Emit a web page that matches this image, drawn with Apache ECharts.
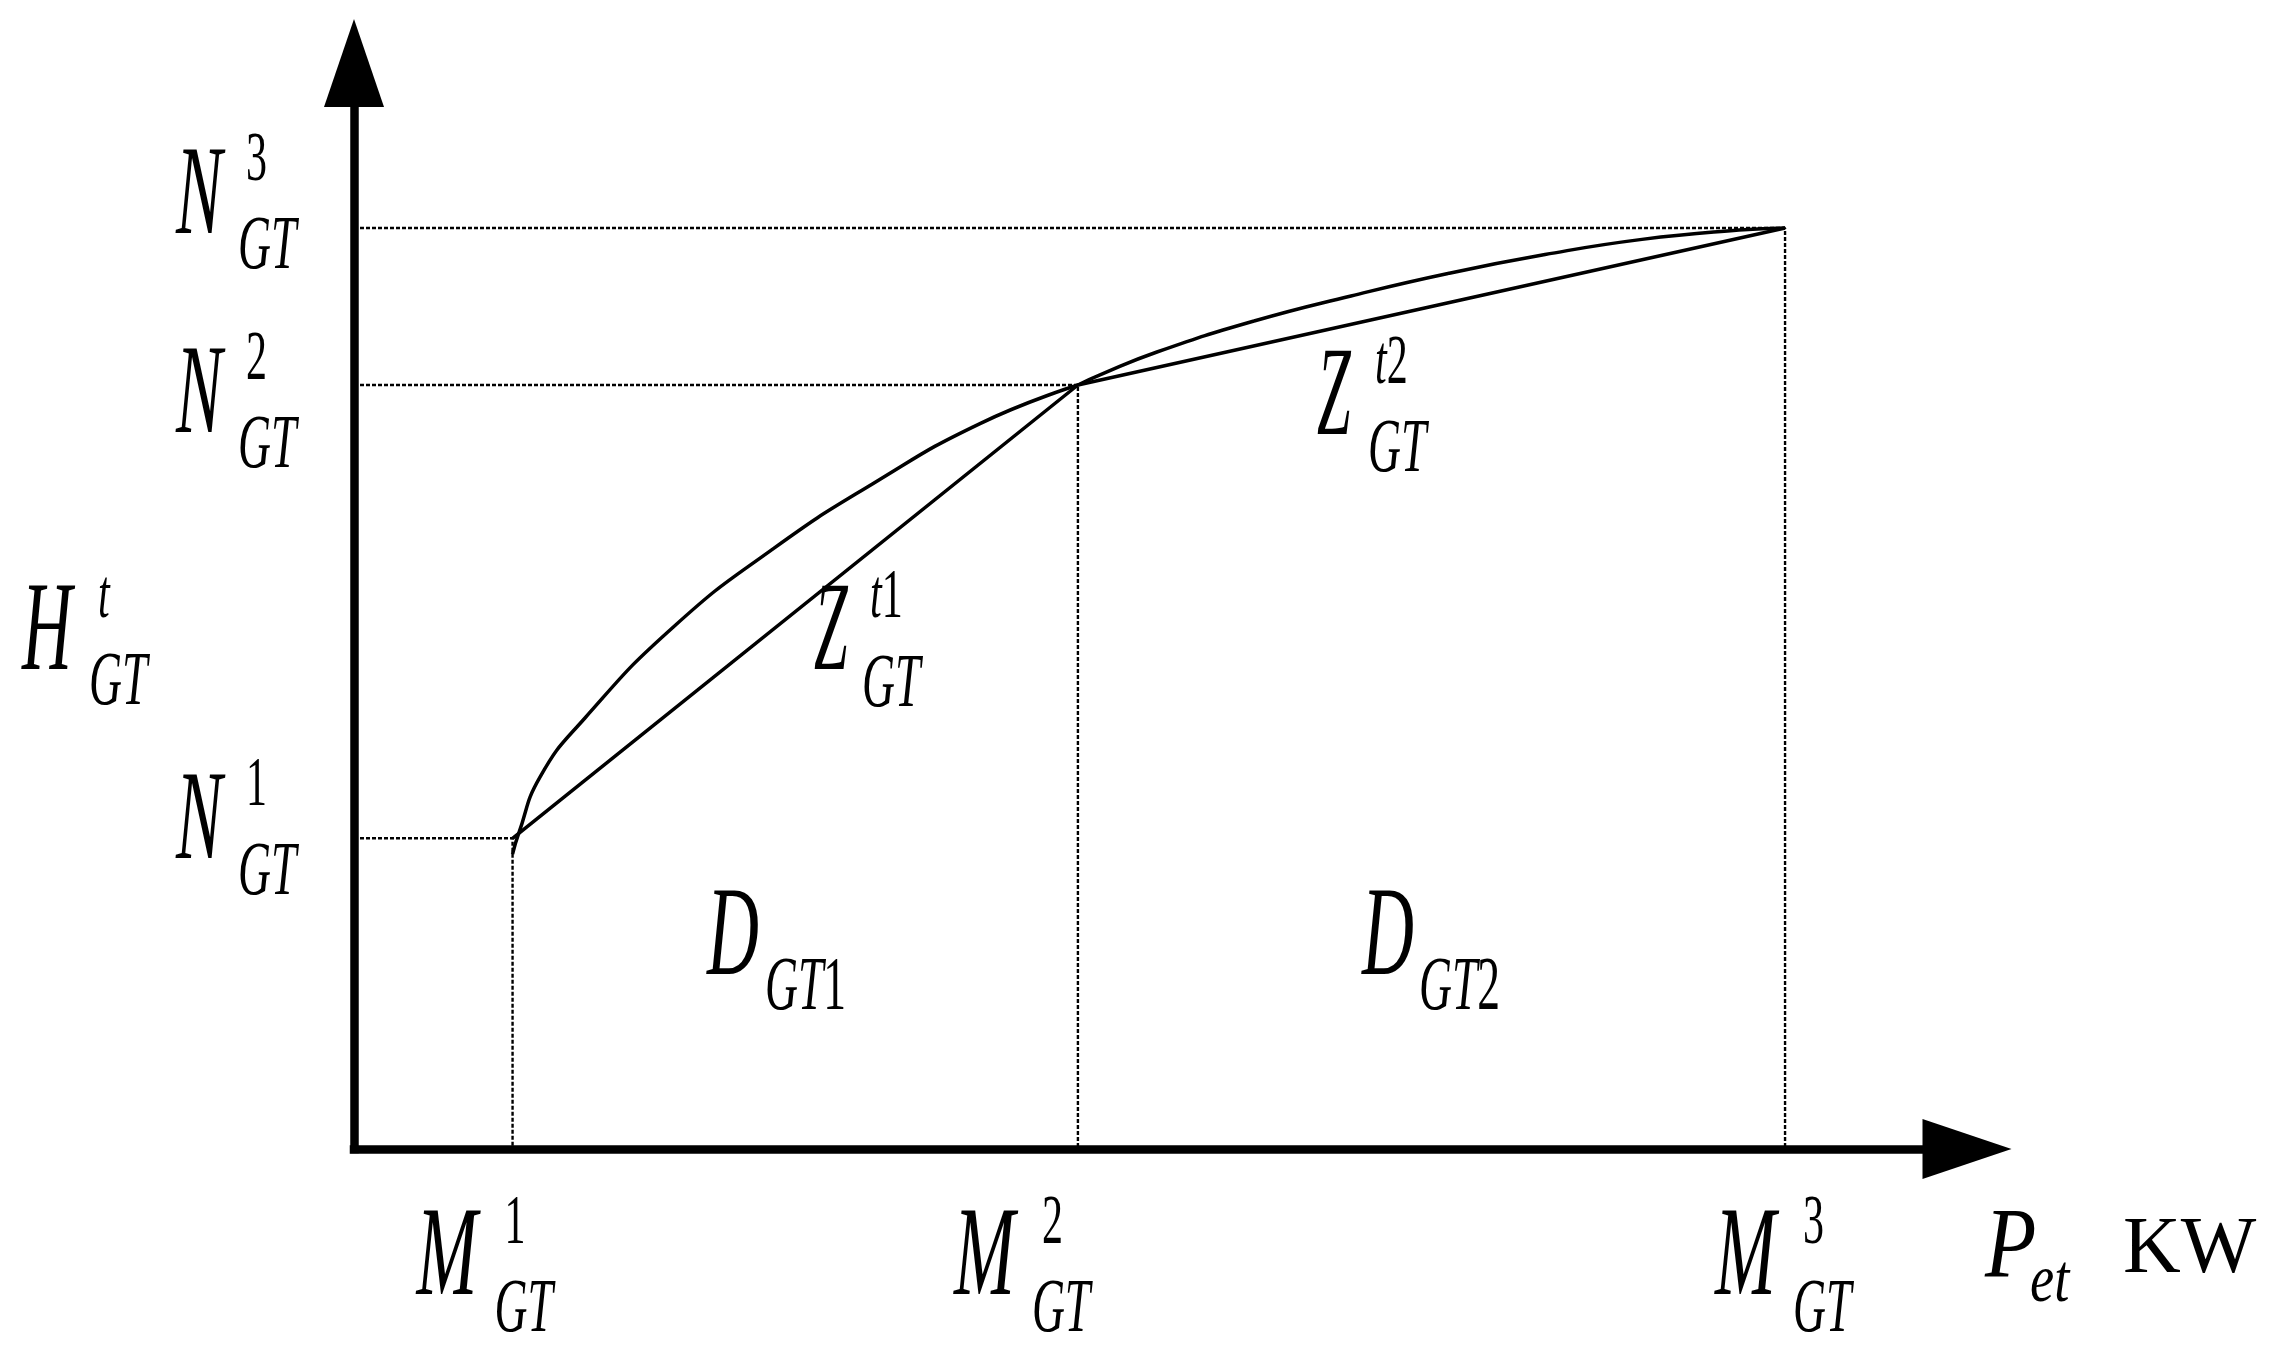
<!DOCTYPE html>
<html>
<head>
<meta charset="utf-8">
<script src="https://cdn.jsdelivr.net/npm/echarts@6/dist/echarts.min.js"></script>
<style>
html,body{margin:0;padding:0;background:#fff;}
#c{width:2278px;height:1357px;}
</style>
</head>
<body>
<div id="c"></div>
<script>
// ---------------- data (arbitrary units) ----------------
// break points M_GT^i (x) and N_GT^i (y)
const breakX = [9.83, 44.88, 88.72];
const breakY = [28.61, 70.35, 84.81];
const tickIndex = ['1', '2', '3'];

// concave curve on segment 1 (M1..M2)
const curve1X = [9.83, 10.20, 11.53, 14.32, 19.80, 26.00, 32.19, 38.81, 44.88];
const curve1Y = [27.16, 29.01, 34.25, 39.69, 48.07, 55.29, 61.28, 66.80, 70.35];

// concave curve on segment 2 (M2..M3)
const curve2X = [44.88, 46.25, 49.78, 55.80, 61.81, 67.82, 73.84, 79.85, 85.86, 88.72];
const curve2Y = [70.35, 71.28, 73.39, 76.24, 78.55, 80.62, 82.36, 83.76, 84.62, 84.81];

const axisMax = 100;

// ---------------- text helpers (condensed Times-like math labels) ----------------
const FAMILY = '"Liberation Serif", "Times New Roman", serif';
const measureCtx = document.createElement('canvas').getContext('2d');
function fontStr(size, italic) { return (italic ? 'italic ' : 'normal ') + size + 'px ' + FAMILY; }
function txt(x, base, str, size, sx, upright) {
  const runs = str.match(/\d+|[^\d]+/g);
  const els = [];
  let cx = x;
  runs.forEach(function (r) {
    const italic = !upright && !/\d/.test(r);
    const font = fontStr(size, italic);
    els.push({
      type: 'text', x: cx, y: base - 0.3375 * size, scaleX: sx, silent: true, z2: 20,
      style: {
        text: r, font: font, fill: '#000',
        align: 'left', verticalAlign: 'middle', textAlign: 'left', textVerticalAlign: 'middle'
      }
    });
    measureCtx.font = font;
    cx += measureCtx.measureText(r).width * sx;
  });
  return els;
}
const BIG = 126, SUP = 70, SUB = 76, SXM = 0.55, SXS = 0.6;
function mathLabel(left, base, main, sup, sub, o) {
  let ch = txt(left, base, main, BIG, o.sxMain || SXM);
  if (sup) ch = ch.concat(txt(left + o.supDx, base + o.supDy, sup, SUP, SXS));
  if (sub) ch = ch.concat(txt(left + o.subDx, base + o.subDy, sub, SUB, SXS));
  return { type: 'group', silent: true, children: ch };
}

// layout of tick labels relative to the axis positions (pixels)
const X_LABEL_DX = [-96, -124, -70];
const X_LABEL_BASE = 154;
const Y_LABEL_DX = -178;
const Y_LABEL_BASE = [29, 56, 14];

const chart = echarts.init(document.getElementById('c'), null, { renderer: 'canvas' });

const axisLineStyle = { color: '#000', width: 8.5, cap: 'square' };
const guideStyle = { color: '#000', width: 2.4, type: [4, 2] };
const curveStyle = { color: '#000', width: 3.5 };

const series = [];
// dotted guide lines: from y axis to break point, then down to x axis
breakX.forEach(function (mx, i) {
  series.push({
    type: 'line', silent: true, symbol: 'none', z: 1,
    data: [[0, breakY[i]], [mx, breakY[i]], [mx, 0]],
    lineStyle: guideStyle
  });
});
series.push({
  type: 'line', silent: true, symbol: 'none', smooth: 0.5, z: 3,
  data: curve1X.map(function (x, i) { return [x, curve1Y[i]]; }), lineStyle: curveStyle
});
series.push({
  type: 'line', silent: true, symbol: 'none', smooth: 0.5, z: 3,
  data: curve2X.map(function (x, i) { return [x, curve2Y[i]]; }), lineStyle: curveStyle
});
// chords Z^{t1}, Z^{t2}
series.push({
  type: 'line', silent: true, symbol: 'none', z: 3,
  data: breakX.map(function (x, i) { return [x, breakY[i]]; }), lineStyle: curveStyle
});
// x tick labels M_GT^i
series.push({
  type: 'custom', silent: true, clip: false, z: 10,
  data: breakX.map(function (v) { return [v, 0]; }),
  renderItem: function (params, api) {
    const i = params.dataIndex;
    const p = api.coord([api.value(0), 0]);
    return mathLabel(p[0] + X_LABEL_DX[i], p[1] + X_LABEL_BASE, 'M', tickIndex[i], 'GT',
      { supDx: 88, supDy: -55, subDx: 78, subDy: 34, sxMain: 0.58 });
  }
});
// y tick labels N_GT^i
series.push({
  type: 'custom', silent: true, clip: false, z: 10,
  data: breakY.map(function (v) { return [0, v]; }),
  renderItem: function (params, api) {
    const i = params.dataIndex;
    const p = api.coord([0, api.value(1)]);
    return mathLabel(p[0] + Y_LABEL_DX, p[1] + Y_LABEL_BASE[i], 'N', tickIndex[i], 'GT',
      { supDx: 70, supDy: -57, subDx: 62, subDy: 32 });
  }
});

const option = {
  animation: false,
  backgroundColor: '#fff',
  tooltip: { show: false },
  grid: { left: 354, right: 311, top: 63, bottom: 208, containLabel: false },
  xAxis: {
    type: 'value', min: 0, max: axisMax,
    axisLine: { show: true, onZero: true, symbol: ['none', 'triangle'], symbolSize: [60, 89], lineStyle: axisLineStyle },
    axisTick: { show: false }, axisLabel: { show: false }, splitLine: { show: false }
  },
  yAxis: {
    type: 'value', min: 0, max: axisMax,
    axisLine: { show: true, onZero: true, symbol: ['none', 'triangle'], symbolSize: [60, 88], lineStyle: axisLineStyle },
    axisTick: { show: false }, axisLabel: { show: false }, splitLine: { show: false }
  },
  series: series,
  graphic: [
    // y-axis name H_GT^t
    mathLabel(22, 678, 'H', 't', 'GT', { supDx: 76, supDy: -56, subDx: 67, subDy: 32 }),
    // chord labels
    mathLabel(814, 678, 'Z', 't1', 'GT', { supDx: 56, supDy: -56, subDx: 48, subDy: 34, sxMain: 0.48 }),
    mathLabel(1317, 443, 'Z', 't2', 'GT', { supDx: 58, supDy: -55, subDx: 51, subDy: 34, sxMain: 0.48 }),
    // region labels
    mathLabel(707, 983, 'D', null, 'GT1', { subDx: 58, subDy: 32, sxMain: 0.57 }),
    mathLabel(1362, 983, 'D', null, 'GT2', { subDx: 57, subDy: 32, sxMain: 0.57 }),
    // x-axis name P_et KW
    { type: 'group', silent: true, children: [].concat(
      txt(1985, 1283, 'P', 99, 0.85),
      txt(2030, 1306, 'et', 68, 0.8),
      txt(2123, 1278, 'KW', 80, 1, true)
    ) }
  ]
};
chart.setOption(option);
</script>
</body>
</html>
